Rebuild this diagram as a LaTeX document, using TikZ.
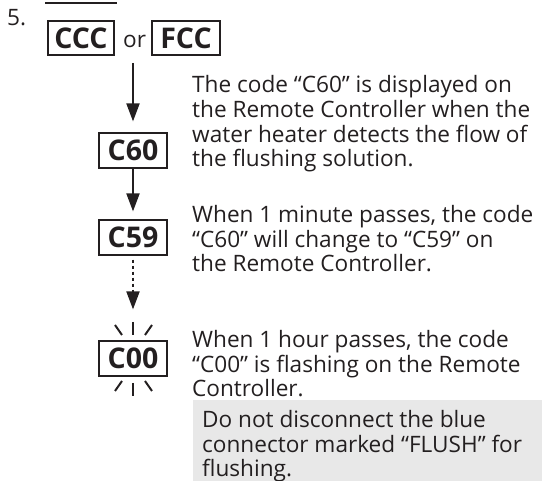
\documentclass[tikz,border=0pt]{standalone}
\usepackage{fontspec}
\setmainfont{Open Sans}
\usetikzlibrary{arrows.meta}
\definecolor{ink}{HTML}{231F20}
\definecolor{note}{HTML}{E8E8E8}
\tikzset{
  codebox/.style={draw=ink, line width=1.2pt, minimum width=68pt, minimum height=35pt, inner sep=0pt, text=ink, font=\fontsize{28.5}{32}\selectfont\bfseries},
  body/.style={anchor=base west, inner sep=0pt, text=ink, font=\fontsize{22.6}{25}\selectfont},
  flow/.style={draw=ink, line width=2pt, -{Triangle[length=18pt,width=13pt]}},
  ray/.style={draw=ink, line width=2pt}
}
\begin{document}
\begin{tikzpicture}[x=1pt,y=-1pt]
\useasboundingbox (0,0) rectangle (542,481);
\fill[note] (193,400) rectangle (542,481);
\node[body] (num) at (7,26) {5.};
\draw[ink, line width=1.2pt] (45,3) -- (117,3);
\node[codebox, minimum width=66pt, minimum height=34pt] (ccc) at (81,38) {CCC};
\node[body] (or) at (123,48) {or};
\node[codebox, minimum width=68pt, minimum height=34pt] (fcc) at (186,38) {FCC};
\coordinate (start) at (133,63);
\node[codebox] (c60) at (133,150.5) {C60};
\node[codebox] (c59) at (133,237.5) {C59};
\node[codebox] (c00) at (133,358.5) {C00};
\draw[flow, shorten >=11pt] (start) -- (c60);
\draw[flow, shorten >=8pt] (c60) -- (c59);
\draw[flow, dash pattern=on 3pt off 3pt, shorten <=4pt, shorten >=31pt] (c59) -- (c00);
% flashing rays
\draw[ray] (115,325) -- (122,335);
\draw[ray] (133,322) -- (133,335);
\draw[ray] (152,325) -- (145,335);
\draw[ray] (122,381) -- (115,391);
\draw[ray] (133,383) -- (133,396);
\draw[ray] (145,381) -- (152,391);
% texts
\node[body] (a1) at (192,93) {The code “C60” is displayed on};
\node[body] (a2) at (192,118) {the Remote Controller when the};
\node[body] (a3) at (192,142.5) {water heater detects the flow of};
\node[body] (a4) at (192,167) {the flushing solution.};
\node[body] (b1) at (192,223) {When 1 minute passes, the code};
\node[body] (b2) at (192,247.5) {“C60” will change to “C59” on};
\node[body] (b3) at (192,272) {the Remote Controller.};
\node[body] (d1) at (192,348) {When 1 hour passes, the code};
\node[body] (d2) at (192,372.5) {“C00” is flashing on the Remote};
\node[body] (d3) at (192,397) {Controller.};
\node[body] (e1) at (202,428) {Do not disconnect the blue};
\node[body] (e2) at (202,452.5) {connector marked “FLUSH” for};
\node[body] (e3) at (202,477) {flushing.};
\end{tikzpicture}
\end{document}
